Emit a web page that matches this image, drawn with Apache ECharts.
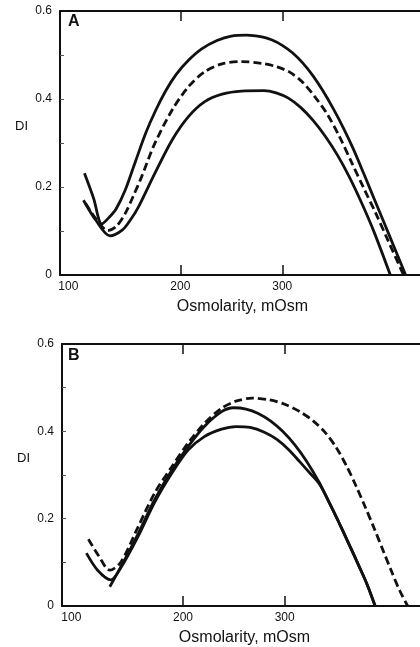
<!DOCTYPE html>
<html>
<head>
<meta charset="utf-8">
<script src="https://cdn.jsdelivr.net/npm/echarts@6/dist/echarts.min.js"></script>
<style>
html,body{margin:0;padding:0;background:#fff;}
#chart{width:420px;height:647px;}
</style>
</head>
<body>
<div id="chart"></div>
<script>
// ---- Data (Osmolarity in mOsm, DI) ----
const xTickLabels = [100, 200, 300];
const xTickMarks = [200, 300];
const yTickLabels = [0, 0.2, 0.4, 0.6];
const yTickMarks = [0.1, 0.2, 0.3, 0.4, 0.5];

// Panel A
const osmA_upper = [106, 115, 123, 131, 137, 146, 156, 166, 176, 186, 196, 208, 221, 236, 250, 265, 280, 290, 300, 310, 320, 330, 340, 350, 360, 370, 380, 390, 400, 410, 421];
const diA_upper  = [0.231, 0.174, 0.116, 0.133, 0.150, 0.193, 0.258, 0.322, 0.375, 0.420, 0.456, 0.488, 0.514, 0.533, 0.543, 0.545, 0.541, 0.534, 0.522, 0.505, 0.482, 0.453, 0.418, 0.378, 0.334, 0.285, 0.230, 0.174, 0.118, 0.062, 0.0];
const osmA_dash  = [107, 118, 129, 137, 146, 154, 162, 175, 192, 208, 224, 241, 260, 280, 295, 308, 320, 332, 344, 356, 368, 380, 392, 404, 419];
const diA_dash   = [0.163, 0.125, 0.101, 0.110, 0.140, 0.180, 0.223, 0.299, 0.375, 0.428, 0.462, 0.480, 0.485, 0.481, 0.473, 0.460, 0.438, 0.405, 0.366, 0.315, 0.256, 0.197, 0.139, 0.077, 0.0];
const osmA_lower = [105, 117, 131, 143, 151, 159, 175, 192, 208, 224, 241, 260, 282, 294, 306, 318, 330, 342, 354, 366, 378, 390, 406];
const diA_lower  = [0.170, 0.125, 0.089, 0.102, 0.125, 0.155, 0.231, 0.307, 0.360, 0.394, 0.411, 0.418, 0.419, 0.414, 0.402, 0.381, 0.352, 0.316, 0.273, 0.222, 0.163, 0.098, 0.0];

// Panel B
const osmB_dash  = [107, 117, 128, 139, 156, 172, 189, 205, 221, 238, 252, 268, 285, 300, 315, 328, 340, 351, 361, 370, 379, 388, 397, 405, 413, 421];
const diB_dash   = [0.153, 0.115, 0.082, 0.101, 0.182, 0.258, 0.319, 0.373, 0.418, 0.453, 0.469, 0.476, 0.472, 0.462, 0.445, 0.424, 0.397, 0.362, 0.320, 0.276, 0.228, 0.178, 0.126, 0.080, 0.036, 0.0];
const osmB_solid1 = [128, 139, 156, 172, 189, 205, 221, 238, 250, 262, 274, 286, 298, 310, 322, 334, 343, 353, 363, 373, 381, 389];
const diB_solid1  = [0.044, 0.090, 0.166, 0.243, 0.311, 0.365, 0.411, 0.445, 0.454, 0.451, 0.441, 0.424, 0.400, 0.369, 0.330, 0.283, 0.241, 0.193, 0.143, 0.092, 0.050, 0.0];
const osmB_solid2 = [105, 116, 129, 139, 156, 172, 189, 205, 221, 238, 252, 266, 280, 292, 304, 315, 325, 334, 343, 353, 363, 373, 381, 389];
const diB_solid2  = [0.121, 0.082, 0.060, 0.088, 0.160, 0.237, 0.304, 0.357, 0.388, 0.405, 0.411, 0.409, 0.398, 0.382, 0.358, 0.330, 0.304, 0.280, 0.241, 0.193, 0.143, 0.092, 0.050, 0.0];

const zip = (xs, ys) => xs.map((x, i) => [x, ys[i]]);

const FONT = "'Liberation Sans', Arial, Helvetica, sans-serif";
const INK = '#111';

function bottomX(gridIndex, min) {
  return {
    type: 'value', gridIndex, position: 'bottom', min, max: 440,
    name: 'Osmolarity, mOsm', nameLocation: 'middle', nameGap: 24,
    nameTextStyle: { fontFamily: FONT, fontSize: 16, color: INK },
    axisLine: { show: true, onZero: false, lineStyle: { color: INK, width: 2 } },
    axisTick: { show: true, inside: true, length: 10, customValues: xTickMarks, lineStyle: { color: INK, width: 1.5 } },
    axisLabel: { show: true, customValues: xTickLabels, margin: 6, alignMinLabel: 'right',
      fontFamily: FONT, fontSize: 12, color: INK },
    splitLine: { show: false }
  };
}
function topX(gridIndex, min) {
  return {
    type: 'value', gridIndex, position: 'top', min, max: 440,
    axisLine: { show: true, onZero: false, lineStyle: { color: INK, width: 2 } },
    axisTick: { show: true, inside: true, length: 10, customValues: xTickMarks, lineStyle: { color: INK, width: 1.5 } },
    axisLabel: { show: false },
    splitLine: { show: false }
  };
}
function leftY(gridIndex) {
  return {
    type: 'value', gridIndex, min: 0, max: 0.6,
    name: 'DI', nameLocation: 'middle', nameRotate: 0, nameGap: 32,
    nameTextStyle: { fontFamily: FONT, fontSize: 13, color: INK, verticalAlign: 'bottom', lineHeight: 34 },
    axisLine: { show: true, onZero: false, lineStyle: { color: INK, width: 2 } },
    axisTick: { show: true, inside: true, length: 4, customValues: yTickMarks, lineStyle: { color: '#555', width: 1 } },
    axisLabel: { show: true, customValues: yTickLabels, margin: 8, fontFamily: FONT, fontSize: 12, color: INK,
      formatter: v => (v === 0 ? '0' : v.toFixed(1)) },
    splitLine: { show: false }
  };
}
function line(data, xAxisIndex, yAxisIndex, dashed) {
  return {
    type: 'line', data, xAxisIndex, yAxisIndex, smooth: 0.3, showSymbol: false, symbol: 'none',
    animation: false, silent: true,
    lineStyle: { color: INK, width: 2.8, type: dashed ? [8, 4] : 'solid', cap: 'butt' }
  };
}

const chart = echarts.init(document.getElementById('chart'), null, { renderer: 'canvas' });
chart.setOption({
  backgroundColor: '#fff',
  animation: false,
  title: [
    { text: 'A', left: 68, top: 14, padding: 0, textStyle: { fontFamily: FONT, fontSize: 16, fontWeight: 'bold', color: INK } },
    { text: 'B', left: 68, top: 348, padding: 0, textStyle: { fontFamily: FONT, fontSize: 16, fontWeight: 'bold', color: INK } }
  ],
  grid: [
    { left: 60, top: 11, width: 365, height: 264, containLabel: false, outerBoundsMode: 'none' },
    { left: 62, top: 344, width: 365, height: 262, containLabel: false, outerBoundsMode: 'none' }
  ],
  xAxis: [bottomX(0, 82), topX(0, 82), bottomX(1, 81), topX(1, 81)],
  yAxis: [leftY(0), leftY(1)],
  series: [
    line(zip(osmA_upper, diA_upper), 0, 0, false),
    line(zip(osmA_dash, diA_dash), 0, 0, true),
    line(zip(osmA_lower, diA_lower), 0, 0, false),
    line(zip(osmB_dash, diB_dash), 2, 1, true),
    line(zip(osmB_solid1, diB_solid1), 2, 1, false),
    line(zip(osmB_solid2, diB_solid2), 2, 1, false)
  ]
});
</script>
</body>
</html>
